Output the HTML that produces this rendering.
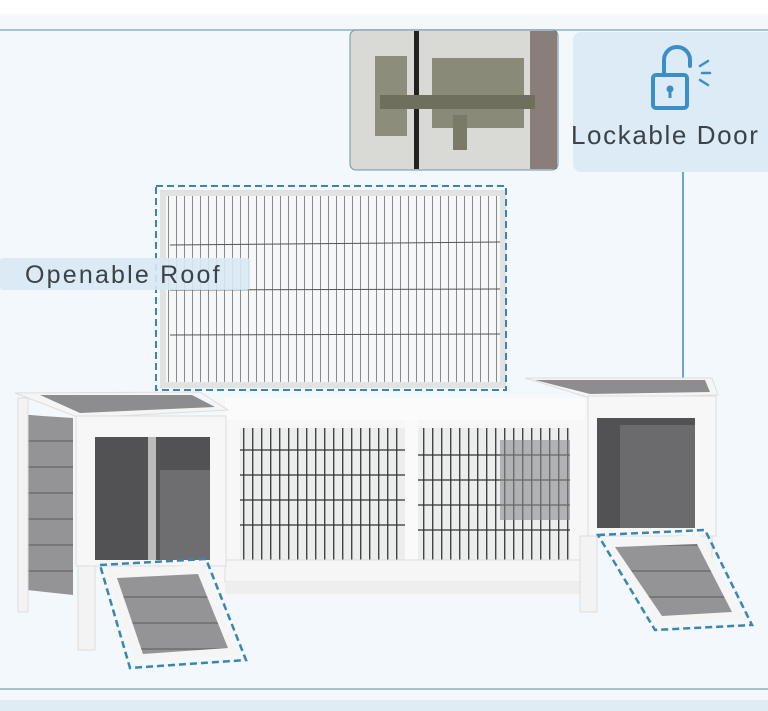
<!DOCTYPE html>
<html><head><meta charset="utf-8"><style>
html,body{margin:0;padding:0;background:#fff}
svg{display:block}
text{font-family:"Liberation Sans",sans-serif}
</style></head><body>
<svg width="768" height="711" viewBox="0 0 768 711" xmlns="http://www.w3.org/2000/svg">
<defs>
<pattern id="vw" width="8" height="10" patternUnits="userSpaceOnUse"><rect width="8" height="10" fill="#f6f7f8"/><rect x="0" width="1" height="10" fill="#8a8a8a"/></pattern>
<pattern id="cw" width="9" height="10" patternUnits="userSpaceOnUse"><rect width="9" height="10" fill="#eceded"/><rect x="0" width="1.4" height="10" fill="#444"/></pattern>
<pattern id="pl" width="10" height="26" patternUnits="userSpaceOnUse"><rect width="10" height="26" fill="#949497"/><rect y="24" width="10" height="2" fill="#77777a"/></pattern>
</defs>
<rect width="768" height="711" fill="#f2f8fb"/>
<rect width="768" height="14" fill="#fff"/>
<rect y="14" width="768" height="16" fill="#f4f8fa"/>
<line x1="0" y1="30" x2="768" y2="30" stroke="#8fb1c2" stroke-width="1.5"/>
<line x1="0" y1="689" x2="768" y2="689" stroke="#8fb1c2" stroke-width="1.5"/>
<rect y="690" width="768" height="10" fill="#f3f8fb"/>
<rect y="700" width="768" height="11" fill="#dfecf4"/>

<!-- photo inset -->
<rect x="350" y="30" width="208" height="140" rx="6" fill="#d9d9d6" stroke="#6e93aa"/>
<rect x="414" y="31" width="5" height="138" fill="#222"/>
<rect x="530" y="31" width="27" height="138" fill="#8a7f78"/>
<rect x="375" y="56" width="32" height="80" fill="#8d8d7c"/>
<rect x="432" y="58" width="92" height="70" fill="#8a8a78"/>
<rect x="380" y="95" width="155" height="14" fill="#6f6f5e"/>
<rect x="453" y="115" width="14" height="35" fill="#7a7a66"/>
<rect x="573" y="32" width="200" height="140" rx="8" fill="#dcebf6"/>
<g fill="none" stroke="#3b8fc6" stroke-width="4" stroke-linecap="round">
<path d="M664 75 V60 a13 13 0 0 1 26 0 V66"/>
<rect x="653" y="75" width="34" height="33" rx="3"/>
<line x1="700" y1="66" x2="708" y2="61" stroke-width="2.5"/><line x1="702" y1="73" x2="710" y2="73" stroke-width="2.5"/><line x1="700" y1="80" x2="708" y2="85" stroke-width="2.5"/>
</g>
<circle cx="670" cy="89" r="3.5" fill="#3b8fc6"/><rect x="668.5" y="89" width="3" height="9" fill="#3b8fc6"/>
<text x="571" y="144" font-size="26" fill="#3d4247" letter-spacing="1.6">Lockable Door</text>
<polyline points="683,172 683,483 600,483" fill="none" stroke="#3d8cbf" stroke-width="1.5"/>
<circle cx="599" cy="483" r="3.5" fill="#3d8cbf"/>

<!-- roof panel -->
<rect x="163" y="193" width="340" height="192" fill="url(#vw)" stroke="#e2e2e2" stroke-width="6"/>
<g stroke="#555" stroke-width="1"><line x1="170" y1="245" x2="500" y2="242"/><line x1="170" y1="290" x2="500" y2="289"/><line x1="170" y1="335" x2="500" y2="334"/></g>
<rect x="156" y="186" width="350" height="204" fill="none" stroke="#3a86b0" stroke-width="2" stroke-dasharray="7,4"/>
<rect x="0" y="258" width="250" height="32" rx="3" fill="#d8e8f3" opacity="0.9"/>
<text x="25" y="283" font-size="25" fill="#3d4247" letter-spacing="2.2">Openable Roof</text>

<!-- hutch middle -->
<rect x="215" y="398" width="375" height="200" fill="#f7f7f7"/>
<rect x="225" y="398" width="360" height="22" fill="#fbfbfb"/>
<rect x="240" y="428" width="165" height="132" fill="url(#cw)"/>
<rect x="418" y="428" width="152" height="132" fill="url(#cw)"/>
<g stroke="#333" stroke-width="1.2"><line x1="240" y1="450" x2="405" y2="450"/><line x1="240" y1="475" x2="405" y2="475"/><line x1="240" y1="500" x2="405" y2="500"/><line x1="240" y1="525" x2="405" y2="525"/><line x1="418" y1="455" x2="570" y2="455"/><line x1="418" y1="480" x2="570" y2="480"/><line x1="418" y1="505" x2="570" y2="505"/><line x1="418" y1="530" x2="570" y2="530"/></g>
<rect x="500" y="440" width="70" height="80" fill="#8a8a8c" opacity="0.6"/>
<rect x="405" y="420" width="13" height="160" fill="#fafafa"/>
<rect x="225" y="560" width="360" height="22" fill="#f6f6f6" stroke="#ddd"/>
<rect x="225" y="582" width="360" height="12" fill="#eee"/>

<!-- left box -->
<polygon points="27,415 73,418 73,595 27,590" fill="url(#pl)"/>
<rect x="18" y="398" width="10" height="214" fill="#f3f3f3" stroke="#ddd"/>
<polygon points="15,393 200,392 228,410 80,418" fill="#f5f5f5" stroke="#ddd"/>
<polygon points="40,395 192,395 215,407 80,413" fill="#8d8d90"/>
<rect x="76" y="416" width="150" height="150" fill="#f7f7f7" stroke="#ddd"/>
<rect x="95" y="437" width="115" height="123" fill="#525255"/>
<rect x="148" y="437" width="8" height="123" fill="#bbb"/>
<rect x="160" y="470" width="50" height="90" fill="#6e6e71"/>
<rect x="78" y="566" width="17" height="84" fill="#f3f3f3" stroke="#ddd"/>

<!-- right box -->
<polygon points="525,378 712,378 718,395 590,398" fill="#f5f5f5" stroke="#ddd"/>
<polygon points="535,380 705,380 710,392 590,394" fill="#8d8d90"/>
<rect x="588" y="396" width="128" height="140" fill="#f7f7f7" stroke="#ddd"/>
<rect x="597" y="418" width="98" height="110" fill="#525255"/>
<rect x="620" y="425" width="75" height="103" fill="#6b6b6e"/>
<rect x="580" y="536" width="17" height="76" fill="#f3f3f3" stroke="#ddd"/>
<rect x="700" y="536" width="12" height="60" fill="#f3f3f3" stroke="#ddd"/>

<!-- ramps -->
<polygon points="105,570 203,565 240,655 135,662" fill="#f5f5f5"/>
<polygon points="117,578 198,574 228,648 143,654" fill="url(#pl)"/>
<polygon points="100,565 206,559 246,660 130,668" fill="none" stroke="#3a86b0" stroke-width="2.5" stroke-dasharray="7,4"/>
<polygon points="602,540 700,535 745,620 658,625" fill="#f5f5f5"/>
<polygon points="615,547 697,544 732,612 662,616" fill="url(#pl)"/>
<polygon points="598,535 705,530 752,625 655,630" fill="none" stroke="#3a86b0" stroke-width="2.5" stroke-dasharray="7,4"/>
</svg>
</body></html>
